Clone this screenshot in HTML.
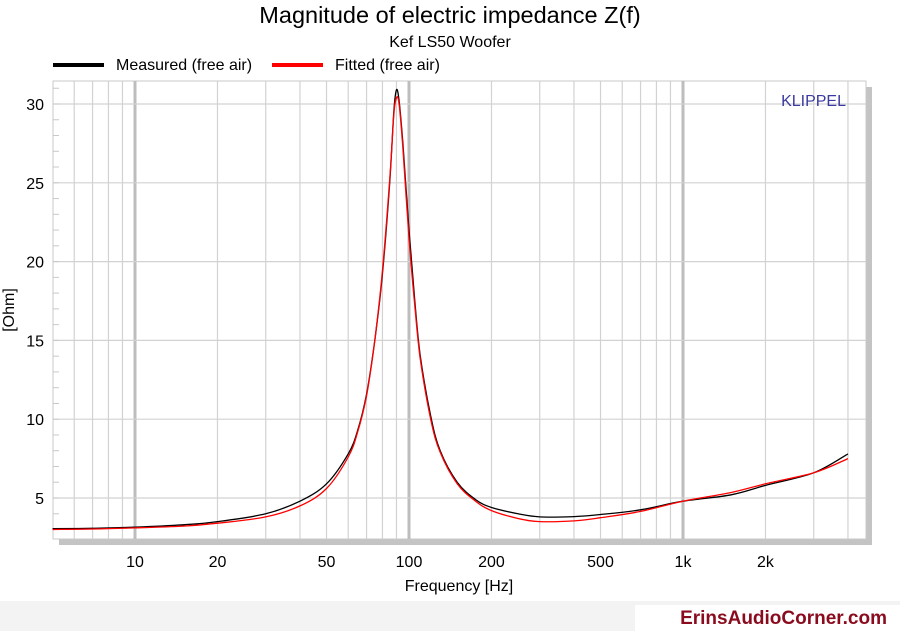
<!DOCTYPE html>
<html><head><meta charset="utf-8"><style>
body{margin:0;background:#fff;width:900px;height:631px;overflow:hidden;font-family:"Liberation Sans",sans-serif}
</style></head><body>
<svg width="900" height="631" style="position:absolute;left:0;top:0">
<rect x="0" y="601" width="900" height="30" fill="#f3f3f3"/>
<rect x="635" y="605" width="265" height="26" fill="#fff"/>
<text x="887" y="624" text-anchor="end" font-size="19" font-weight="bold" fill="#8b0b1e">ErinsAudioCorner.com</text>
<text x="450" y="23" text-anchor="middle" font-size="23.5" fill="#000">Magnitude of electric impedance Z(f)</text>
<text x="450" y="47" text-anchor="middle" font-size="16" fill="#000">Kef LS50 Woofer</text>
<g>
<line x1="53" y1="65" x2="104" y2="65" stroke="#000" stroke-width="4"/>
<text x="116" y="70" font-size="16">Measured (free air)</text>
<line x1="272" y1="65" x2="323" y2="65" stroke="#f00" stroke-width="4"/>
<text x="335" y="70" font-size="16">Fitted (free air)</text>
</g>
<rect x="59" y="87" width="813" height="458" fill="#c4c4c4"/>
<rect x="53" y="81" width="813" height="458" fill="#fff" stroke="#c8c8c8"/>
<g id="grid"></g>
<g id="ticks"></g>
<text x="846" y="106" text-anchor="end" font-size="16" fill="#3a3aa0">KLIPPEL</text>
<text x="459" y="591" text-anchor="middle" font-size="16">Frequency [Hz]</text>
<text transform="translate(14,310) rotate(-90)" text-anchor="middle" font-size="16">[Ohm]</text>
<g id="series"></g>
</svg>
<script>
const freqs=[5,7,10,15,20,30,40,50,60,65,70,75,80,85,88,90,92,95,100,105,110,120,130,150,175,200,250,300,400,500,700,1000,1500,2000,3000,4000];
const measured=[3.05,3.08,3.15,3.3,3.5,4.0,4.8,5.9,7.8,9.3,11.6,15,19.2,25,29.5,30.9,30.2,27.5,22,17.5,14,10.2,8.0,6.0,4.9,4.4,4.0,3.8,3.82,3.95,4.25,4.8,5.2,5.8,6.6,7.8];
const fitted=[3.0,3.03,3.1,3.22,3.4,3.8,4.5,5.6,7.6,9.2,11.5,15,19.4,25.2,29.3,30.4,30.0,27.2,21.5,17.2,13.8,10.0,7.9,5.9,4.8,4.2,3.7,3.5,3.55,3.75,4.15,4.8,5.35,5.9,6.6,7.5];
const yTicks=[5,10,15,20,25,30];
const xTickVals=[10,20,50,100,200,500,1000,2000];
const xTickLabels=["10","20","50","100","200","500","1k","2k"];
const NS="http://www.w3.org/2000/svg";
const X0=53,X1=866,Y0=81,Y1=539;
function xs(f){return 135+274*Math.log10(f/10);}
function ys(v){return 498-(v-5)*15.76;}
function mk(t,a,p){const e=document.createElementNS(NS,t);for(const k in a)e.setAttribute(k,a[k]);p.appendChild(e);return e;}
const grid=document.getElementById('grid'),ticks=document.getElementById('ticks'),ser=document.getElementById('series');
for(let d=1;d<=1000;d*=10){for(let m=1;m<10;m++){const f=m*d;if(f<5.5||f>4500)continue;const x=xs(f);
const l=mk('line',{x1:x,x2:x,y1:Y0,y2:Y1,stroke:m==1?'#bdbdbd':'#d2d2d2','stroke-width':m==1?3:1.2},grid);

}}
for(let v=3;v<=31;v++){const y=ys(v);
const t=mk('line',{x1:X0,x2:X0+6,y1:y,y2:y,stroke:'#c8c8c8'},ticks);

}
yTicks.forEach(v=>{const y=ys(v);
const l=mk('line',{x1:X0,x2:X1,y1:y,y2:y,stroke:'#d2d2d2','stroke-width':1.2},grid);


const t=mk('text',{x:44,y:y+6,'text-anchor':'end','font-size':16},ticks);t.textContent=v;

});
xTickVals.forEach((f,i)=>{const t=mk('text',{x:xs(f),y:567,'text-anchor':'middle','font-size':16},ticks);t.textContent=xTickLabels[i];

});
function path(vals,col,name){
const P=freqs.map((f,i)=>[xs(f),ys(vals[i])]);
let d='M'+P[0][0].toFixed(1)+','+P[0][1].toFixed(1);
for(let i=0;i<P.length-1;i++){const p0=P[Math.max(0,i-1)],p1=P[i],p2=P[i+1],p3=P[Math.min(P.length-1,i+2)];
const c1=[p1[0]+(p2[0]-p0[0])/6,p1[1]+(p2[1]-p0[1])/6],c2=[p2[0]-(p3[0]-p1[0])/6,p2[1]-(p3[1]-p1[1])/6];
d+='C'+c1[0].toFixed(1)+','+c1[1].toFixed(1)+' '+c2[0].toFixed(1)+','+c2[1].toFixed(1)+' '+p2[0].toFixed(1)+','+p2[1].toFixed(1);}
const p=mk('path',{d:d,fill:'none',stroke:col,'stroke-width':1.3,'stroke-linejoin':'round'},ser);

}
path(measured,'#000','measured-line');
path(fitted,'#f00','fitted-line');
</script>
</body></html>
